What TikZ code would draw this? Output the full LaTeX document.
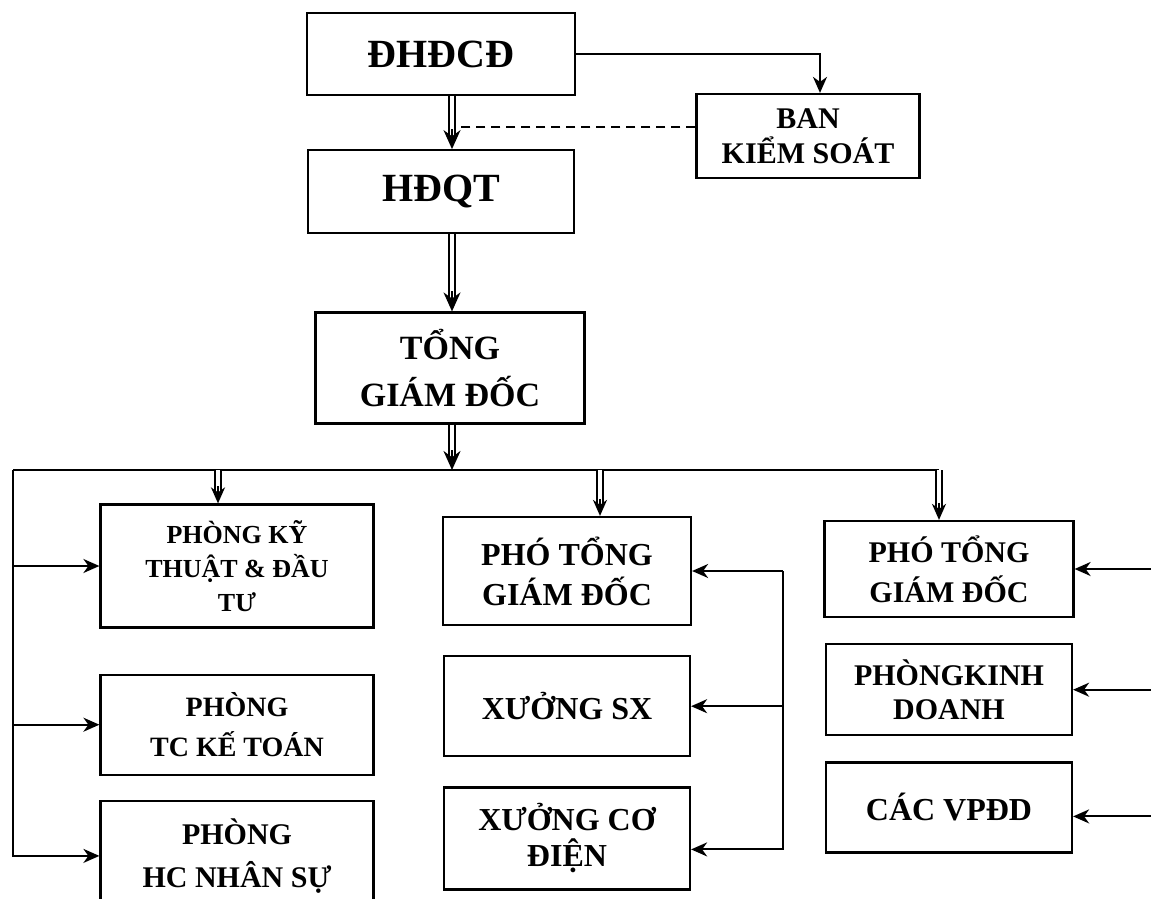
\documentclass[tikz,border=0pt]{standalone}
\usepackage{fontspec}
\setmainfont{Liberation Serif}
\usepackage{tikz}
\usetikzlibrary{arrows.meta, positioning}

\begin{document}
\begin{tikzpicture}[
            x = 1pt, y = -1pt, % pixel grid, y runs down
            arr/.style={-{Stealth[length=16pt, width=14pt, inset=5pt]}}, % arrow head style
            line width = 2pt,
            every text node part/.style={align=center},
            box/.style={draw, line width=2.2pt, inner sep=0pt},
            sz/.style 2 args={font=\bfseries\fontsize{#1}{#2}\selectfont},
            dbl/.style={double, double distance=3.5pt, line width=1.8pt},
            bigtip/.style={-{Stealth[length=19pt, width=17pt]}}
        ]

        \path[use as bounding box, fill=white] (0,0) rectangle (1151,899);

        % top of the chart
        \node[box, sz={40}{46}, minimum width=268pt, minimum height=82pt] (DHDCD) at (441,54) {ĐHĐCĐ};
        \node[box, sz={40}{46}, minimum width=266pt, minimum height=83pt, below=53pt of DHDCD] (HDQT) {HĐQT};
        \node[box, sz={30}{35}, minimum width=223pt, minimum height=84pt] (BKS) at (808,136) {BAN\\KIỂM SOÁT};
        \node[box, sz={34}{47}, minimum width=269pt, minimum height=111pt] (TGD) at (450,368) {TỔNG\\GIÁM ĐỐC};

        % left column
        \node[box, sz={26}{34}, minimum width=273pt, minimum height=123pt] (PKT) at (237,566) {PHÒNG KỸ\\THUẬT \& ĐẦU\\TƯ};
        \node[box, sz={28}{40}, minimum width=273pt, minimum height=100pt, below=45pt of PKT] (PTC) {PHÒNG\\TC KẾ TOÁN};
        \node[box, sz={30}{43}, minimum width=273pt, minimum height=110pt, below=24pt of PTC] (PHC) {PHÒNG\\HC NHÂN SỰ};

        % middle column
        \node[box, sz={32}{40}, minimum width=248pt, minimum height=108pt] (PTGa) at (567,571) {PHÓ TỔNG\\GIÁM ĐỐC};
        \node[box, sz={32}{38}, minimum width=246pt, minimum height=100pt, below=29pt of PTGa] (XSX) {XƯỞNG SX};
        \node[box, sz={32}{36}, minimum width=246pt, minimum height=102pt, below=29pt of XSX] (XCD) {XƯỞNG CƠ\\ĐIỆN};

        % right column
        \node[box, sz={30}{40}, minimum width=249pt, minimum height=96pt] (PTGb) at (949,569) {PHÓ TỔNG\\GIÁM ĐỐC};
        \node[box, sz={30}{34}, minimum width=246pt, minimum height=91pt, below=25pt of PTGb] (PKD) {PHÒNGKINH\\DOANH};
        \node[box, sz={32}{38}, minimum width=246pt, minimum height=90pt, below=25pt of PKD] (VPDD) {CÁC VPĐD};

        \coordinate (sp) at (452,0);
        \coordinate (busL) at (13,470);
        \coordinate (busR) at (939,470);
        \coordinate (midV) at (783,0);
        \coordinate (edgeR) at (1165,0);

        \coordinate (a1) at (DHDCD.south -| sp);
        \coordinate (b1) at (HDQT.north -| sp);
        \coordinate (a2) at (HDQT.south -| sp);
        \coordinate (b2) at (TGD.north -| sp);
        \coordinate (a3) at (TGD.south -| sp);
        \coordinate (b3) at (busL -| sp);
        \coordinate (c1) at ([xshift=-19pt]PKT.north);
        \coordinate (c2) at ([xshift=33pt]PTGa.north);
        \coordinate (c3) at ([xshift=-10pt]PTGb.north);
        \coordinate (kA) at ([yshift=9pt]BKS.west);
        \coordinate (xcdIn) at ([yshift=-11pt]XCD.east);
        \coordinate (vpIn) at ([yshift=-9pt]VPDD.east);

        % spine
        \draw[arr] (DHDCD.east) -| ([xshift=12pt]BKS.north);
        \draw[dbl, shorten >=14pt] (a1) -- (b1);
        \draw[bigtip] ([yshift=20pt]b1) -- (b1);
        \draw[dashed, dash pattern=on 9pt off 6pt, shorten >=5pt] (kA) -- (kA -| sp);
        \draw[dbl, shorten >=14pt] (a2) -- (b2);
        \draw[bigtip] ([yshift=20pt]b2) -- (b2);
        \draw[dbl, shorten >=14pt] (a3) -- (b3);
        \draw[bigtip] ([yshift=20pt]b3) -- (b3);

        % bus
        \draw (busL) -- (busR);
        \draw[dbl, shorten >=12pt] (busL -| c1) -- (c1);
        \draw[arr] ([yshift=17pt]c1) -- (c1);
        \draw[dbl, shorten >=12pt] (busL -| c2) -- (c2);
        \draw[arr] ([yshift=17pt]c2) -- (c2);
        \draw[dbl, shorten >=12pt] (busR) -- (c3);
        \draw[arr] ([yshift=17pt]c3) -- (c3);

        % left feed
        \draw[arr] (busL) |- (PHC.west);
        \draw[arr] (busL |- PKT.west) -- (PKT.west);
        \draw[arr] (busL |- PTC.west) -- (PTC.west);

        % middle feed
        \draw[arr] (midV |- PTGa.east) -- (PTGa.east);
        \draw[arr] (midV |- PTGa.east) |- (xcdIn);
        \draw[arr] (midV |- XSX.east) -- (XSX.east);

        % right feed
        \draw[arr] (edgeR |- PTGb.east) -- (PTGb.east);
        \draw[arr] (edgeR |- PKD.east) -- (PKD.east);
        \draw[arr] (edgeR |- vpIn) -- (vpIn);

\end{tikzpicture}
\end{document}
